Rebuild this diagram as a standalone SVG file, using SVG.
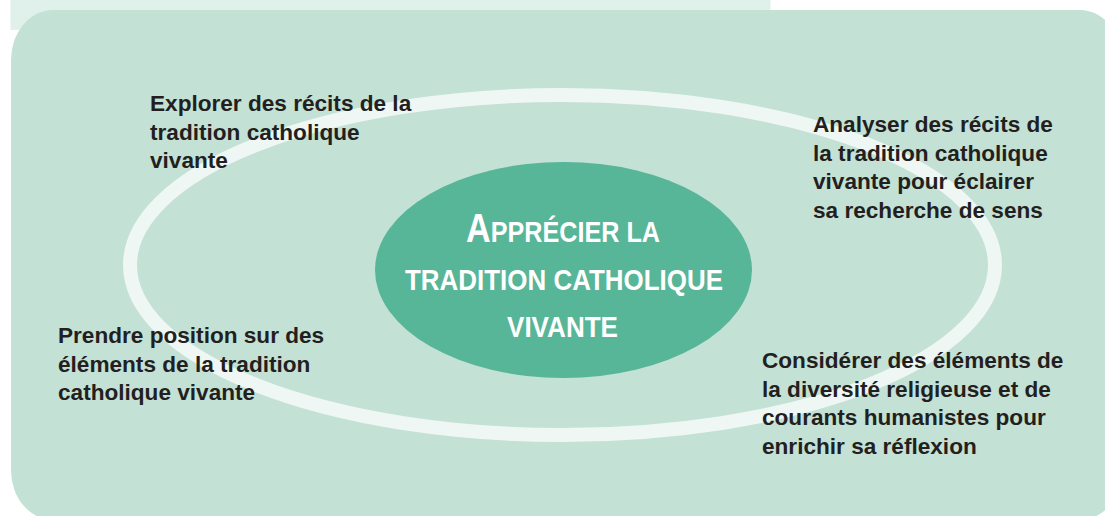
<svg xmlns="http://www.w3.org/2000/svg" width="1105" height="516" viewBox="0 0 1105 516">
<style>
.lbl{font-family:"Liberation Sans",Arial,sans-serif;font-weight:bold;font-size:22.6px;fill:#231f20}
.ctr{font-family:"Liberation Sans",Arial,sans-serif;font-weight:bold;font-size:29.5px;fill:#ffffff;text-anchor:middle}
</style>
<rect width="1105" height="516" fill="#ffffff"/>
<rect x="10.5" y="0" width="760" height="30" fill="#e0f1eb"/>
<rect x="11" y="10" width="1111" height="510" rx="42" ry="50" fill="#c4e1d5"/>
<g id="connectors">
<ellipse cx="562.5" cy="265" rx="432.5" ry="170" fill="none" stroke="#eef7f4" stroke-width="14"/>
</g>
<g id="center">
<ellipse cx="563.5" cy="270" rx="188.5" ry="108" fill="#57b598"/>
<text class="ctr" x="563" y="242" textLength="194" lengthAdjust="spacingAndGlyphs"><tspan font-size="40">A</tspan>PPRÉCIER LA</text>
<text class="ctr" x="564" y="290" textLength="318" lengthAdjust="spacingAndGlyphs">TRADITION  CATHOLIQUE</text>
<text class="ctr" x="562.5" y="337" textLength="111" lengthAdjust="spacingAndGlyphs">VIVANTE</text>
</g>
<g id="explorer">
<text class="lbl" x="150" y="111">Explorer des récits de la</text>
<text class="lbl" x="150" y="139.5">tradition catholique</text>
<text class="lbl" x="150" y="168">vivante</text>
</g>
<g id="analyser">
<text class="lbl" x="813" y="132">Analyser des récits de</text>
<text class="lbl" x="813" y="160.5">la tradition catholique</text>
<text class="lbl" x="813" y="189">vivante pour éclairer</text>
<text class="lbl" x="813" y="217.5">sa recherche de sens</text>
</g>
<g id="prendre">
<text class="lbl" x="58" y="343">Prendre position sur des</text>
<text class="lbl" x="58" y="371.5">éléments de la tradition</text>
<text class="lbl" x="58" y="400">catholique vivante</text>
</g>
<g id="considerer">
<text class="lbl" x="762" y="368">Considérer des éléments de</text>
<text class="lbl" x="762" y="396.5">la diversité religieuse et de</text>
<text class="lbl" x="762" y="425">courants humanistes pour</text>
<text class="lbl" x="762" y="453.5">enrichir sa réflexion</text>
</g>
</svg>
